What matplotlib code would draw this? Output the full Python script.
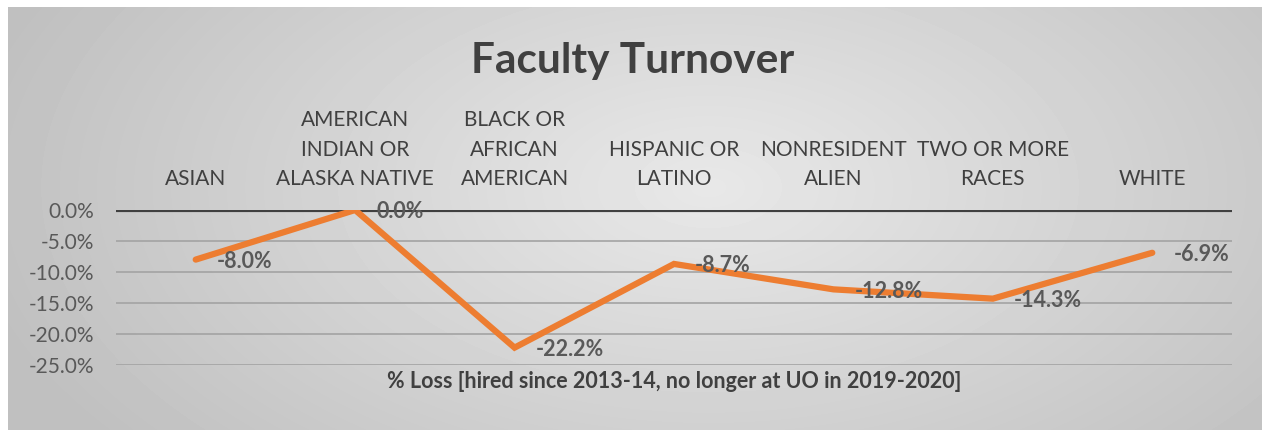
import numpy as np
import matplotlib
matplotlib.use("Agg")
import matplotlib.pyplot as plt
from matplotlib.ticker import FuncFormatter

plt.rcParams['font.family'] = ['Lato', 'DejaVu Sans']

# data (% loss)
categories = ['ASIAN', 'AMERICAN\nINDIAN OR\nALASKA NATIVE', 'BLACK OR\nAFRICAN\nAMERICAN',
              'HISPANIC OR\nLATINO', 'NONRESIDENT\nALIEN', 'TWO OR MORE\nRACES', 'WHITE']
loss = [-8.0, 0.0, -22.2, -8.7, -12.8, -14.3, -6.9]
yticks = [0, -5, -10, -15, -20, -25]

W, H = 1262, 430
fig = plt.figure(figsize=(W / 100, H / 100), dpi=100, facecolor='white')

# radial gray gradient background
bg = fig.add_axes([8 / W, 0, (W - 8) / W, (H - 7) / H])
yy, xx = np.mgrid[0:423, 0:1254]
r = np.sqrt(((xx - 700) / 760.0) ** 2 + ((yy - 180) / 420.0) ** 2)
r = np.clip(r, 0, 1)
shade = 0.91 - 0.16 * r
bg.imshow(shade, cmap='gray', vmin=0, vmax=1, aspect='auto', interpolation='bilinear')
bg.set_axis_off()

ax = fig.add_axes([116 / W, 1 - 365 / H, (1232 - 116) / W, (365 - 210) / H])
ax.patch.set_alpha(0)
x = np.arange(len(categories))

for v in yticks[1:]:
    ax.axhline(v, color='#a3a3a3', lw=1.2, zorder=1)
ax.axhline(0, color='#404040', lw=3, zorder=2)

ax.plot(x, loss, color='#ED7D31', lw=4.5, solid_capstyle='round', solid_joinstyle='miter', zorder=3)

for xi, v in zip(x, loss):
    ax.annotate(f'{v:.1f}%', (xi, v), xytext=(21, -2), textcoords='offset pixels',
                ha='left', va='center', fontsize=15.5, fontweight='bold', color='#595959', zorder=4)

ax.set_xlim(-0.5, len(categories) - 0.5)
ax.set_ylim(-25, 0)
ax.set_yticks(yticks)
ax.yaxis.set_major_formatter(FuncFormatter(lambda v, p: f'{v:.1f}%'))
ax.tick_params(axis='y', length=0, pad=16, labelsize=15, labelcolor='#595959')

ax.xaxis.tick_top()
ax.set_xticks(x)
ax.set_xticklabels(categories, linespacing=1.6)
ax.tick_params(axis='x', length=0, pad=15, labelsize=15, labelcolor='#404040')

ax.xaxis.set_label_position('bottom')
ax.set_xlabel('% Loss [hired since 2013-14, no longer at UO in 2019-2020]',
              fontsize=15.5, fontweight='bold', color='#404040', labelpad=4)

for s in ax.spines.values():
    s.set_visible(False)

fig.text(633 / W, 1 - 73 / H, 'Faculty Turnover', ha='center', va='baseline',
         fontsize=30.5, fontweight='bold', color='#404040')

fig.savefig('out.png', dpi=100, facecolor='white')
